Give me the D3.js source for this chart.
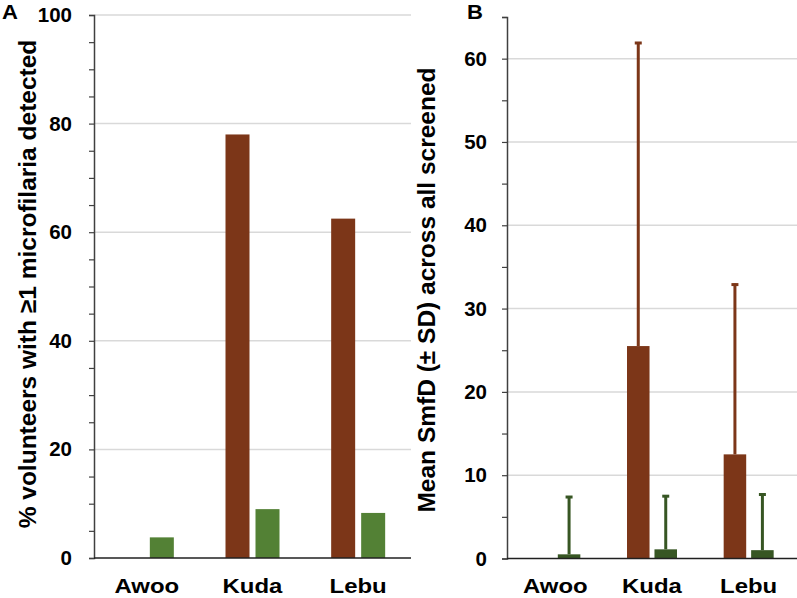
<!DOCTYPE html>
<html>
<head>
<meta charset="utf-8">
<script src="https://cdn.jsdelivr.net/npm/d3@7"></script>
<style>
  body { margin: 0; background: #fff; }
  svg text { font-family: "Liberation Sans", Arial, sans-serif; font-weight: bold; fill: #000; }
</style>
</head>
<body>
<svg id="chart"></svg>
<script>
// Chart size
const width = 797;
const height = 598;

// Data
const villages = ["Awoo", "Kuda", "Lebu"];
const series = ["brown", "green"];
// panel A: % volunteers with >=1 mf detected
const pctBrown = [0, 78, 62.5];
const pctGreen = [3.8, 9, 8.3];
// panel B: mean SmfD and SD (upper bars only)
const meanBrown = [0, 25.5, 12.5];
const sdBrown = [0, 36.5, 20.5];
const meanGreen = [0.5, 1.1, 1.0];
const sdGreen = [7.0, 6.5, 6.8];
// tick values
const ticksA = d3.range(0, 101, 5);
const ticksB = d3.range(0, 66, 5);

const brown = "#7c3618";
const greenA = "#538135";
const greenB = "#375623";

const svg = d3.select("#chart")
    .attr("width", width)
    .attr("height", height);

// draw one panel
function panel(opt) {
    const g = svg.append("g");

    const y = d3.scaleLinear().domain(opt.domain).range([opt.y0, opt.y1]);
    const x0 = d3.scaleBand().domain(villages).range([opt.xl, opt.xr]);
    const x1 = d3.scaleBand().domain(series).range([-opt.half, opt.half]).paddingInner(opt.pad);
    const cx = v => x0(v) + x0.bandwidth() / 2;

    // gridlines
    g.selectAll(".grid")
        .data(opt.grid)
        .enter().append("line")
        .attr("x1", opt.xl).attr("x2", opt.xr)
        .attr("y1", d => y(d)).attr("y2", d => y(d))
        .attr("stroke", "#d9d9d9")
        .attr("stroke-width", 1.5);

    // bars
    const rows = villages.map((v, i) => [
        { v: v, s: "brown", val: opt.brown[i], sd: opt.sdB ? opt.sdB[i] : 0, color: brown },
        { v: v, s: "green", val: opt.green[i], sd: opt.sdG ? opt.sdG[i] : 0, color: opt.green2 }
    ]).flat();

    // error bars (upper only) drawn before bars
    const err = rows.filter(d => d.sd > 0);
    g.selectAll(".err")
        .data(err)
        .enter().append("line")
        .attr("x1", d => cx(d.v) + x1(d.s) + x1.bandwidth() / 2)
        .attr("x2", d => cx(d.v) + x1(d.s) + x1.bandwidth() / 2)
        .attr("y1", d => y(d.val))
        .attr("y2", d => y(d.val + d.sd))
        .attr("stroke", d => d.color)
        .attr("stroke-width", 3);
    g.selectAll(".cap")
        .data(err)
        .enter().append("line")
        .attr("x1", d => cx(d.v) + x1(d.s) + x1.bandwidth() / 2 - 3.5)
        .attr("x2", d => cx(d.v) + x1(d.s) + x1.bandwidth() / 2 + 3.5)
        .attr("y1", d => y(d.val + d.sd) + 1)
        .attr("y2", d => y(d.val + d.sd) + 1)
        .attr("stroke", d => d.color)
        .attr("stroke-width", 3);

    g.selectAll(".bar")
        .data(rows.filter(d => d.val > 0))
        .enter().append("rect")
        .attr("x", d => cx(d.v) + x1(d.s))
        .attr("width", x1.bandwidth())
        .attr("y", d => y(d.val))
        .attr("height", d => y(0) - y(d.val))
        .attr("fill", d => d.color);

    // y axis
    const yAxis = d3.axisLeft(y)
        .tickValues(opt.ticks)
        .tickSize(5)
        .tickPadding(opt.lab - 5)
        .tickFormat(d => d % opt.every === 0 ? d : "");
    const ga = g.append("g")
        .attr("transform", `translate(${opt.xl},0)`)
        .call(yAxis);
    ga.select(".domain").attr("stroke", "#404040").attr("stroke-width", 1.5);
    ga.selectAll(".tick line").attr("stroke", "#404040").attr("stroke-width", 1.2);
    ga.selectAll(".tick text")
        .style("font-size", "20.5px");

    // x baseline
    g.append("line")
        .attr("x1", opt.xl).attr("x2", opt.xr)
        .attr("y1", y(0)).attr("y2", y(0))
        .attr("stroke", "#202020")
        .attr("stroke-width", 1.5);

    // category labels
    g.selectAll(".cat")
        .data(villages)
        .enter().append("text")
        .attr("transform", d => `translate(${cx(d)},593) scale(1.14,1)`)
        .attr("text-anchor", "middle")
        .style("font-size", "21px")
        .text(d => d);

    // y title
    g.append("text")
        .attr("transform", `translate(${opt.tx},${opt.ty}) rotate(-90)`)
        .attr("text-anchor", "middle")
        .style("font-size", "24.5px")
        .text(opt.title);

    // panel letter
    g.append("text")
        .attr("transform", `translate(${opt.lx},19) scale(1.05,1)`)
        .style("font-size", "21px")
        .text(opt.letter);
}

panel({
    domain: [0, 100], y0: 558, y1: 15,
    xl: 94, xr: 411, half: 27, pad: 0.2,
    grid: [20, 40, 60, 80, 100],
    brown: pctBrown, green: pctGreen, green2: greenA,
    ticks: ticksA, every: 20, lab: 22,
    title: "% volunteers with \u22651 microfilaria detected",
    tx: 36, ty: 284, letter: "A", lx: 2
});

panel({
    domain: [0, 65], y0: 558.5, y1: 17,
    xl: 507, xr: 797, half: 25, pad: 0.18,
    grid: [10, 20, 30, 40, 50, 60],
    brown: meanBrown, green: meanGreen, green2: greenB,
    sdB: sdBrown, sdG: sdGreen,
    ticks: ticksB, every: 10, lab: 20,
    title: "Mean SmfD (\u00b1 SD) across all screened",
    tx: 435, ty: 290, letter: "B", lx: 467
});
</script>
</body>
</html>
